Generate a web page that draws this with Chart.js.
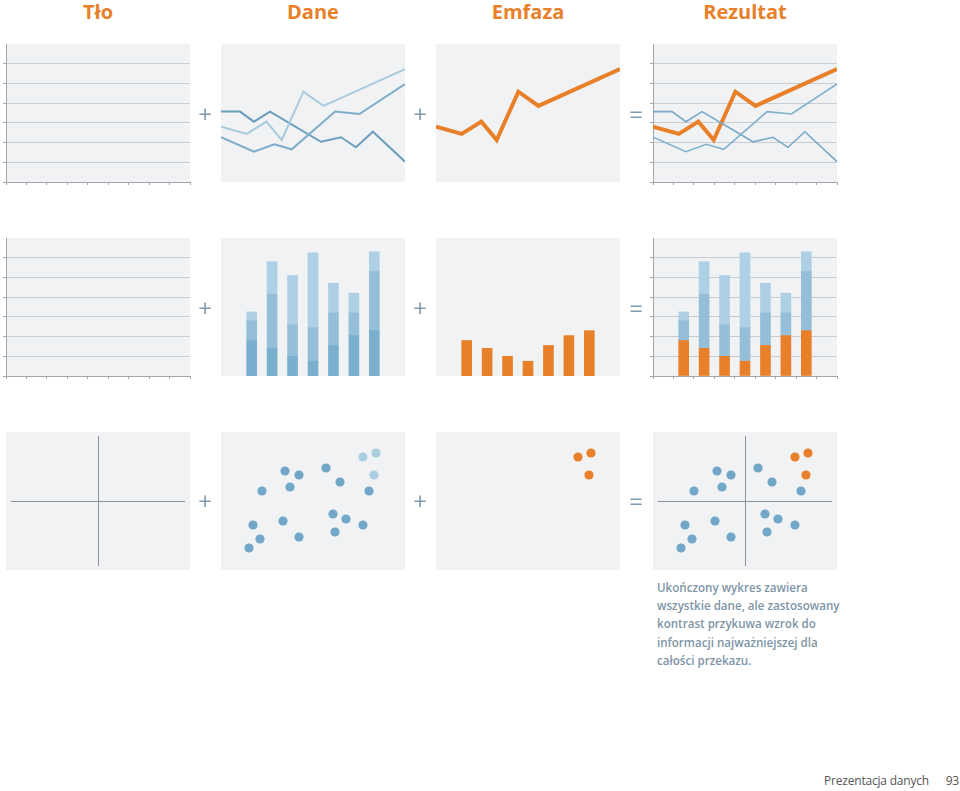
<!DOCTYPE html>
<html lang="pl">
<head>
<meta charset="utf-8">
<title>Tło + Dane + Emfaza = Rezultat</title>
<script src="https://cdn.jsdelivr.net/npm/chart.js@4.4.1/dist/chart.umd.min.js"></script>
<style>
  body { margin: 0; background: #fff; width: 960px; height: 791px; position: relative; overflow: hidden; font-family: 'Open Sans', sans-serif; }
  canvas { position: absolute; }
  .title { position: absolute; top: 0; width: 184px; text-align: center; font-size: 20px; line-height: 24px; font-weight: 700; color: #e8802a; }
  .op { position: absolute; width: 30px; margin-left: -15px; text-align: center; font-size: 24px; line-height: 24px; color: #7f9aad; }
  .note { position: absolute; left: 657px; top: 579px; font-size: 11.6px; line-height: 18.2px; font-weight: 600; color: #7e95a8; }
  .foot { position: absolute; top: 772px; font-size: 12px; letter-spacing: -0.2px; color: #555; white-space: nowrap; }
</style>
</head>
<body>
<div class="title" style="left:6px">Tło</div>
<div class="title" style="left:221px">Dane</div>
<div class="title" style="left:436px">Emfaza</div>
<div class="title" style="left:653px">Rezultat</div>

<div class="note">Ukończony wykres zawiera<br>wszystkie dane, ale zastosowany<br>kontrast przykuwa wzrok do<br>informacji najważniejszej dla<br>całości przekazu.</div>
<div class="foot" style="right:31px">Prezentacja danych</div>
<div class="foot" style="right:1px">93</div>

<script>
// ---- line row (x in tick units 0..9, y in grid units 0..7)
var darkX = [0, 0.93, 1.61, 2.40, 4.89, 5.87, 6.60, 7.43, 9];
var darkY = [3.57, 3.57, 3.06, 3.57, 2.04, 2.27, 1.76, 2.55, 1.03];
var midX = [0, 1.61, 2.61, 3.46, 5.58, 6.77, 9];
var midY = [2.27, 1.54, 1.91, 1.66, 3.57, 3.45, 4.97];
var keyX = [0, 1.26, 2.22, 2.97, 4.03, 5.01, 9];   // the line that gets emphasised
var keyY = [2.81, 2.44, 3.06, 2.13, 4.58, 3.86, 5.73];

// ---- bar row (9 slots, bars in slots 2..8)
var slots = ['', 'A', 'B', 'C', 'D', 'E', 'F', 'G', ''];
var barBase = [null, 1.8, 1.4, 1.0, 0.75, 1.55, 2.05, 2.3, null];
var barMid = [null, 1.0, 2.75, 1.6, 1.7, 1.65, 1.15, 3.0, null];
var barTop = [null, 0.45, 1.65, 2.5, 3.8, 1.5, 1.0, 1.0, null];

// ---- scatter row (offsets from the crosshair)
var dotX = [-51, -28, -14, -23, 13, 27, 56, -60, -53, -64, -30, -14, 20, 33, 22, 50];
var dotY = [10, 30, 26, 14, 33, 19, 10, -24, -38, -47, -20, -36, -13, -18, -31, -24];
var hotX = [50, 63, 61];
var hotY = [44, 48, 26];

var orange = '#e8802a';
var panelColor = '#f1f2f4';
var gridColor = '#c9cdd1';
var axisColor = '#a3a7ab';

var M = 10;
var colLeft = [6, 221, 436, 653];
var rowTop = [44, 238, 432];
var PW = 184, PH = 138;

function pts(xs, ys) {
  var out = [];
  for (var i = 0; i < xs.length; i++) out.push({x: xs[i], y: ys[i]});
  return out;
}

function addCanvas(col, row) {
  var c = document.createElement('canvas');
  c.width = PW + 2 * M;
  c.height = PH + 2 * M;
  c.style.left = (colLeft[col] - M) + 'px';
  c.style.top = (rowTop[row] - M) + 'px';
  document.body.appendChild(c);
  return c;
}

// grey panel behind the plot area
var panelBg = {
  id: 'panelBg',
  beforeDraw: function(chart, args, opts) {
    var a = chart.chartArea, ctx = chart.ctx;
    var gx = opts.gx || 0, gy = opts.gy || 0;
    ctx.save();
    ctx.fillStyle = panelColor;
    ctx.fillRect(a.left - gx, a.top - gy, a.right - a.left + 2 * gx, a.bottom - a.top + 2 * gy);
    ctx.restore();
  }
};

function gridScales(xType, showAxes, stacked) {
  return {
    x: {
      type: xType, min: xType == 'linear' ? 0 : undefined, max: xType == 'linear' ? 9 : undefined,
      stacked: stacked, display: showAxes,
      ticks: {display: false, stepSize: 1},
      grid: {drawOnChartArea: false, tickLength: 3, tickColor: axisColor, offset: xType != 'linear'},
      border: {color: axisColor}
    },
    y: {
      min: 0, max: 7, stacked: stacked, display: showAxes,
      ticks: {display: false, stepSize: 1},
      grid: {
        tickLength: 3,
        color: function(c) { return (c.tick.value == 0 || c.tick.value == 7) ? 'transparent' : gridColor; },
        tickColor: function(c) { return c.tick.value == 7 ? 'transparent' : axisColor; }
      },
      border: {color: axisColor}
    }
  };
}

function baseOptions(scales, padding, bg) {
  return {
    responsive: false,
    animation: false,
    events: [],
    layout: {padding: padding, autoPadding: false},
    plugins: {legend: {display: false}, tooltip: {enabled: false}, panelBg: bg || {}},
    scales: scales
  };
}

function lineSet(xs, ys, color, width) {
  return {
    data: pts(xs, ys), borderColor: color, borderWidth: width,
    pointRadius: 0, tension: 0, borderJoinStyle: 'miter', fill: false
  };
}

function lineChart(col, sets, showAxes) {
  var pad = showAxes ? {left: M - 3, bottom: M - 3, top: M, right: M} : M;
  new Chart(addCanvas(col, 0), {
    type: 'line',
    data: {datasets: sets},
    options: baseOptions(gridScales('linear', showAxes, false), pad),
    plugins: [panelBg]
  });
}

function barSet(values, color) {
  return {data: values, backgroundColor: color, barThickness: 10, borderWidth: 0};
}

function barChart(col, sets, showAxes) {
  var pad = showAxes ? {left: M - 3, bottom: M - 3, top: M, right: M} : M;
  new Chart(addCanvas(col, 1), {
    type: 'bar',
    data: {labels: slots, datasets: sets},
    options: baseOptions(gridScales('category', showAxes, true), pad),
    plugins: [panelBg]
  });
}

function dotSet(xs, ys, color) {
  return {data: pts(xs, ys), backgroundColor: color, pointRadius: 4.6, borderWidth: 0};
}

function scatterChart(col, sets, cross) {
  var crossColor = function(c) { return (cross && c.tick.value == 0) ? '#8e9196' : 'transparent'; };
  new Chart(addCanvas(col, 2), {
    type: 'scatter',
    data: {datasets: sets},
    options: baseOptions({
      x: {min: -87, max: 87, ticks: {display: false, stepSize: 87}, grid: {color: crossColor, drawTicks: false}, border: {display: false}},
      y: {min: -65, max: 65, ticks: {display: false, stepSize: 65}, grid: {color: crossColor, drawTicks: false}, border: {display: false}}
    }, {left: M + 5, right: M + 5, top: M + 4, bottom: M + 4}, {gx: 5, gy: 4}),
    plugins: [panelBg]
  });
}

// row 1: lines
lineChart(0, [], true);
lineChart(1, [
  lineSet(keyX, keyY, '#a9cadd', 2),
  lineSet(midX, midY, '#7eadca', 2),
  lineSet(darkX, darkY, '#6d9ebd', 2)
], false);
lineChart(2, [lineSet(keyX, keyY, orange, 4)], false);
lineChart(3, [
  lineSet(midX, midY, '#80b0ce', 1.6),
  lineSet(darkX, darkY, '#79a9c8', 1.6),
  lineSet(keyX, keyY, orange, 4)
], true);

// row 2: stacked bars
barChart(0, [], true);
barChart(1, [
  barSet(barBase, '#7aafce'),
  barSet(barMid, '#95bfd9'),
  barSet(barTop, '#aed0e4')
], false);
barChart(2, [barSet(barBase, orange)], false);
barChart(3, [
  barSet(barBase, orange),
  barSet(barMid, '#95bfd9'),
  barSet(barTop, '#aed0e4')
], true);

// row 3: scatter
scatterChart(0, [], true);
scatterChart(1, [dotSet(dotX, dotY, '#72a7c7'), dotSet(hotX, hotY, '#abcde0')], false);
scatterChart(2, [dotSet(hotX, hotY, orange)], false);
scatterChart(3, [dotSet(dotX, dotY, '#72a7c7'), dotSet(hotX, hotY, orange)], true);

// operators between the panels
var rowMid = [115, 309, 502];
var ops = [[205, '+'], [420, '+'], [636, '=']];
rowMid.forEach(function(y) {
  ops.forEach(function(o) {
    var d = document.createElement('div');
    d.className = 'op';
    d.textContent = o[1];
    d.style.left = o[0] + 'px';
    d.style.top = (y - 13) + 'px';
    document.body.appendChild(d);
  });
});
</script>
</body>
</html>
